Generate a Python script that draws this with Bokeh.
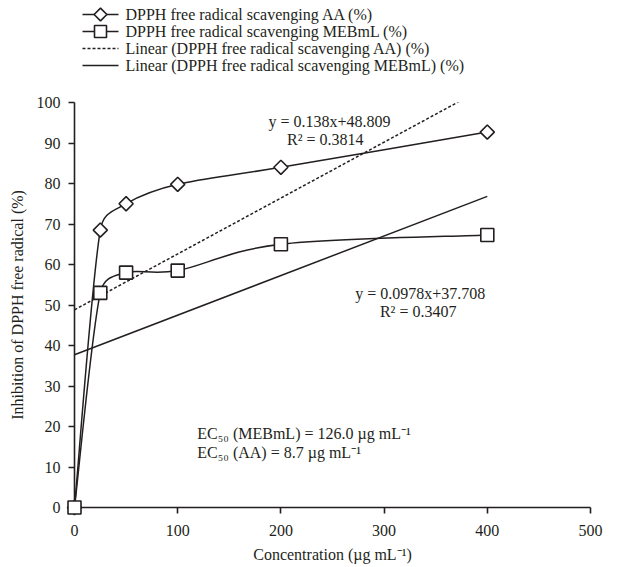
from bokeh.plotting import figure
from bokeh.layouts import column
from bokeh.models import Range1d, FixedTicker, Label, ColumnDataSource
from bokeh.embed import file_html
from bokeh.resources import INLINE
import numpy as np

# ---- data ----
concentration = [0, 25, 50, 100, 200, 400]
aa_inhibition = [0, 68.5, 75.0, 79.8, 84.0, 92.7]
mebml_inhibition = [0, 53.0, 58.0, 58.5, 65.0, 67.3]
trend_slopes = [0.138, 0.0978]
trend_intercepts = [48.809, 37.708]
trend_r2 = [0.3814, 0.3407]
x_ticks = [0, 100, 200, 300, 400, 500]
y_ticks = [0, 10, 20, 30, 40, 50, 60, 70, 80, 90, 100]
ec50_mebml = 126.0
ec50_aa = 8.7
series_names = ["DPPH free radical scavenging AA (%)",
                "DPPH free radical scavenging MEBmL (%)",
                "Linear (DPPH free radical scavenging AA) (%)",
                "Linear (DPPH free radical scavenging MEBmL) (%)"]

INK = "#231f20"
FONT = "Liberation Serif"
FS = "16px"

W = 643
LEG_H = 90
MAIN_H = 477
LEFT = 74
FRAME_W = 516
FRAME_H = 405
X_MAX = 500
Y_MAX = 100
TREND_DASH = "3 2"


def smooth_segments(xs, ys, sx, sy):
    """Cubic Bezier smoothing (spreadsheet-like), computed in screen proportions
    with control arms limited to half of the adjacent segment."""
    n = len(xs)
    P = np.array([[x * sx, y * sy] for x, y in zip(xs, ys)])
    d = dict(x0=[], y0=[], x1=[], y1=[], cx0=[], cy0=[], cx1=[], cy1=[])
    for i in range(n - 1):
        a = P[i]
        b = P[i + 1]
        prev = P[i - 1] if i > 0 else P[i]
        nxt = P[i + 2] if i + 2 < n else P[i + 1]
        seg = np.linalg.norm(b - a)
        t0 = (b - prev) / 6.0
        t1 = (nxt - a) / 6.0
        for t in (t0, t1):
            L = np.linalg.norm(t)
            if L > 0.5 * seg:
                t *= 0.5 * seg / L
        c0 = a + t0
        c1 = b - t1
        d["x0"].append(a[0] / sx); d["y0"].append(a[1] / sy)
        d["x1"].append(b[0] / sx); d["y1"].append(b[1] / sy)
        d["cx0"].append(c0[0] / sx); d["cy0"].append(c0[1] / sy)
        d["cx1"].append(c1[0] / sx); d["cy1"].append(c1[1] / sy)
    return ColumnDataSource(d)


SX = FRAME_W / X_MAX
SY = FRAME_H / Y_MAX

p = figure(width=W, height=MAIN_H, x_range=Range1d(0, X_MAX), y_range=Range1d(0, Y_MAX),
           output_backend="svg", toolbar_location=None,
           min_border_left=LEFT, min_border_right=W - LEFT - FRAME_W,
           min_border_top=102 - LEG_H, min_border_bottom=MAIN_H - (102 - LEG_H) - FRAME_H)
p.grid.visible = False
p.outline_line_color = None

# trend lines
trend_x = [concentration[0], concentration[-1]]
trend_aa_y = [trend_slopes[0] * x + trend_intercepts[0] for x in trend_x]
trend_meb_y = [trend_slopes[1] * x + trend_intercepts[1] for x in trend_x]
p.line(trend_x, trend_aa_y, line_color=INK, line_width=1.5, line_dash=TREND_DASH)
p.line(trend_x, trend_meb_y, line_color=INK, line_width=1.5)

# smoothed series lines
p.bezier(x0="x0", y0="y0", x1="x1", y1="y1", cx0="cx0", cy0="cy0", cx1="cx1", cy1="cy1",
         source=smooth_segments(concentration, aa_inhibition, SX, SY), line_color=INK, line_width=1.5)
p.bezier(x0="x0", y0="y0", x1="x1", y1="y1", cx0="cx0", cy0="cy0", cx1="cx1", cy1="cy1",
         source=smooth_segments(concentration, mebml_inhibition, SX, SY), line_color=INK, line_width=1.5)

# markers
p.scatter(concentration, aa_inhibition, marker="square", angle=np.pi / 4, size=10,
          fill_color="white", line_color=INK, line_width=1.6, level="overlay")
p.scatter(concentration, mebml_inhibition, marker="square", size=13,
          fill_color="white", line_color=INK, line_width=1.6, level="overlay")

# axes
for ax in (p.xaxis[0], p.yaxis[0]):
    ax.axis_line_color = INK
    ax.axis_line_width = 1.6
    ax.major_tick_line_color = INK
    ax.major_tick_line_width = 1.6
    ax.major_tick_out = 6
    ax.major_tick_in = 0
    ax.minor_tick_out = 0
    ax.minor_tick_in = 0
    ax.major_label_text_font = FONT
    ax.major_label_text_font_size = FS
    ax.major_label_text_color = INK
    ax.axis_label_text_font = FONT
    ax.axis_label_text_font_size = FS
    ax.axis_label_text_font_style = "normal"
    ax.axis_label_text_color = INK
p.xaxis.ticker = FixedTicker(ticks=x_ticks)
p.yaxis.ticker = FixedTicker(ticks=y_ticks)
p.xaxis.major_label_standoff = 11
p.yaxis.major_label_standoff = 8
p.xaxis.axis_label = "Concentration (\u00b5g mL\u207b\u00b9)"
p.yaxis.axis_label = "Inhibition of DPPH free radical (%)"
p.xaxis.axis_label_standoff = 7
p.yaxis.axis_label_standoff = 8


def add_text(fig, x, y, text, align="center"):
    fig.add_layout(Label(x=x, y=y, text=text, text_font=FONT, text_font_size=FS, text_color=INK,
                         text_align=align, text_baseline="middle"))


add_text(p, 247, 95.3, f"y = {trend_slopes[0]}x+{trend_intercepts[0]}")
add_text(p, 243, 90.9, f"R\u00b2 = {trend_r2[0]}")
add_text(p, 335, 52.8, f"y = {trend_slopes[1]}x+{trend_intercepts[1]:.3f}")
add_text(p, 333, 48.4, f"R\u00b2 = {trend_r2[1]}")
add_text(p, 119, 18.3, f"EC\u2085\u2080 (MEBmL) = {ec50_mebml:.1f} \u00b5g mL\u207b\u00b9", align="left")
add_text(p, 119, 13.6, f"EC\u2085\u2080 (AA) = {ec50_aa} \u00b5g mL\u207b\u00b9", align="left")

# ---- legend strip above the plot (pixel-like coordinates, y pointing down) ----
lg = figure(width=W, height=LEG_H, x_range=Range1d(0, FRAME_W), y_range=Range1d(LEG_H, 0),
            output_backend="svg", toolbar_location=None, x_axis_type=None, y_axis_type=None,
            min_border_left=LEFT, min_border_right=W - LEFT - FRAME_W,
            min_border_top=0, min_border_bottom=0)
lg.grid.visible = False
lg.outline_line_color = None

KEY_X0, KEY_X1, TEXT_X = 8, 44, 51
ROW0, PITCH = 14, 17
rows = [ROW0 + PITCH * i for i in range(len(series_names))]
key_dash = ["solid", "solid", TREND_DASH, "solid"]
key_mid = (KEY_X0 + KEY_X1) / 2

for ry, dash in zip(rows, key_dash):
    lg.segment(x0=[KEY_X0], x1=[KEY_X1], y0=[ry], y1=[ry], line_color=INK, line_width=1.5,
               line_dash=dash)
lg.scatter([key_mid], [rows[0]], marker="square", angle=np.pi / 4, size=9,
           fill_color="white", line_color=INK, line_width=1.6)
lg.scatter([key_mid], [rows[1]], marker="square", size=12,
           fill_color="white", line_color=INK, line_width=1.6)
for name, ry in zip(series_names, rows):
    add_text(lg, TEXT_X, ry, name, align="left")

layout = column(lg, p, spacing=0)
open("out.html", "w").write(file_html(layout, INLINE))
